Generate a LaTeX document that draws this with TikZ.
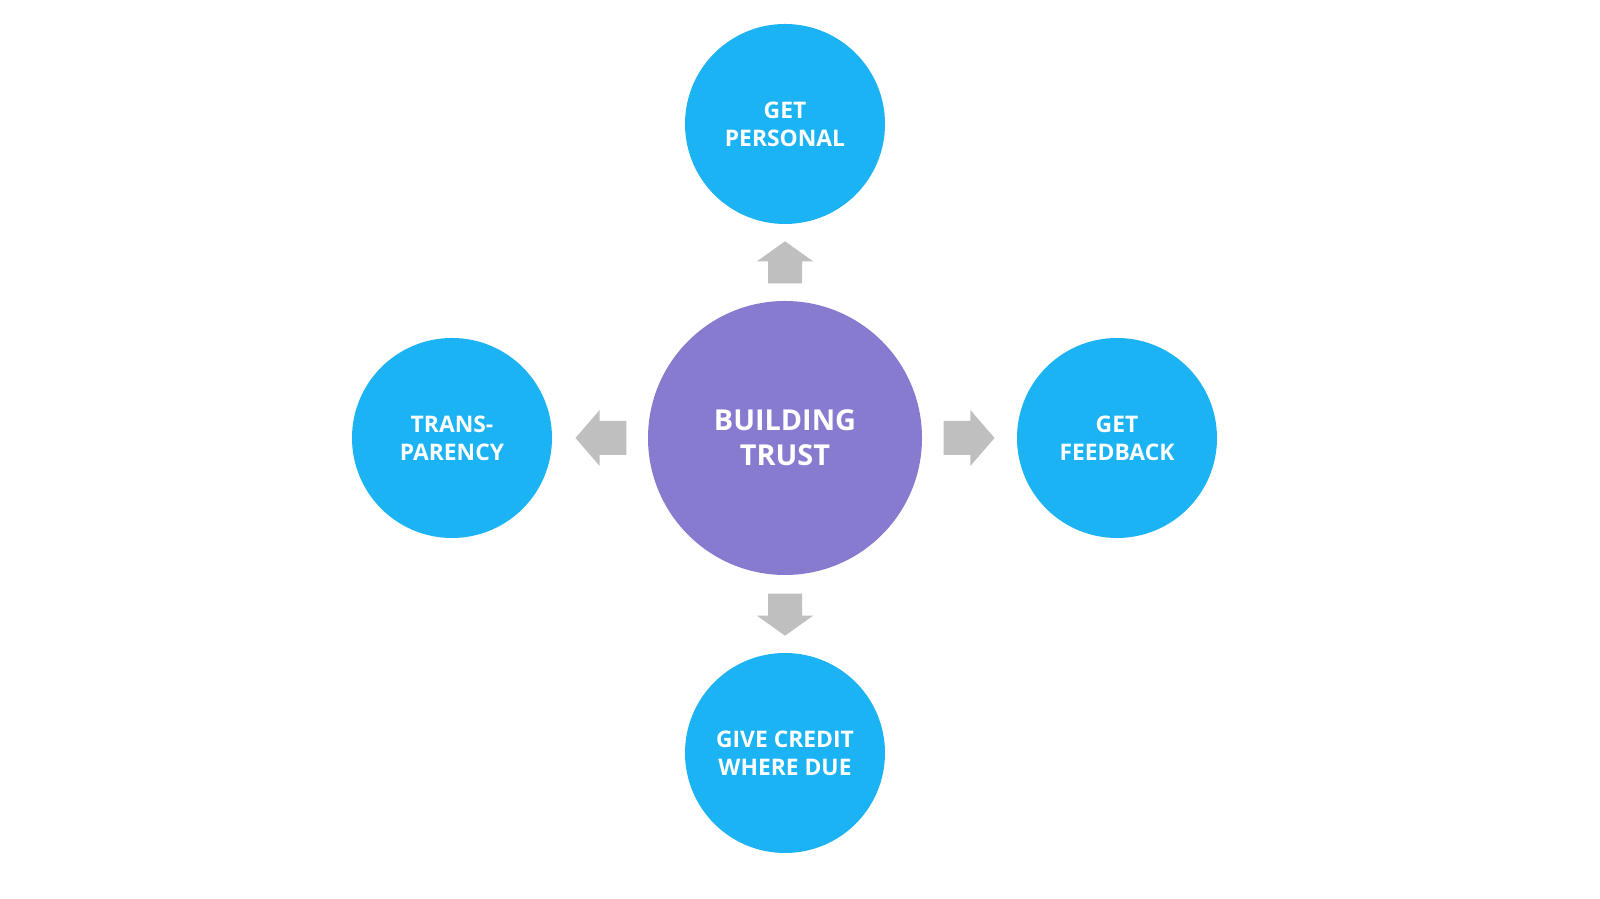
\documentclass[tikz,border=0pt]{standalone}
\usepackage{fontspec}
\setmainfont{Open Sans}
\usetikzlibrary{calc}

\definecolor{trustblue}{HTML}{1BB3F3}
\definecolor{trustpurple}{HTML}{877BD0}
\definecolor{arrowgray}{HTML}{BFBFBF}

\tikzset{
  hub/.style={circle, fill=trustpurple, text=white, minimum size=2.74cm, inner sep=0pt,
    align=center, font=\fontsize{8.2}{10}\selectfont\bfseries},
  spoke/.style={circle, fill=trustblue, text=white, minimum size=2cm, inner sep=0pt,
    align=center, font=\fontsize{6.5}{8}\selectfont\bfseries},
  blockarrow/.pic={
    \fill[arrowgray] (0,-0.17) -- (0.22,-0.17) -- (0.22,-0.28) -- (0.42,0)
      -- (0.22,0.28) -- (0.22,0.17) -- (0,0.17) -- cycle;
  }
}

\begin{document}
\begin{tikzpicture}
  \useasboundingbox (-7.85,-4.61) rectangle (8.15,4.38);

  \node[hub] at (0,0) (trust) {BUILDING\\TRUST};
  \node[spoke] at (0,3.14) (personal) {GET\\PERSONAL};
  \node[spoke] at (0,-3.15) (credit) {GIVE CREDIT\\WHERE DUE};
  \node[spoke] at (-3.33,0) (transparency) {TRANS-\\PARENCY};
  \node[spoke] at (3.32,0) (feedback) {GET\\FEEDBACK};

  % block arrows from the hub
  \pic[rotate=90] at ($(trust.north)+(0,0.17)$) {blockarrow};
  \pic[rotate=-90] at ($(trust.south)+(0,-0.18)$) {blockarrow};
  \pic[rotate=180, xscale=1.21] at ($(trust.west)+(-0.21,0)$) {blockarrow};
  \pic[xscale=1.21] at ($(trust.east)+(0.21,0)$) {blockarrow};

\end{tikzpicture}
\end{document}
